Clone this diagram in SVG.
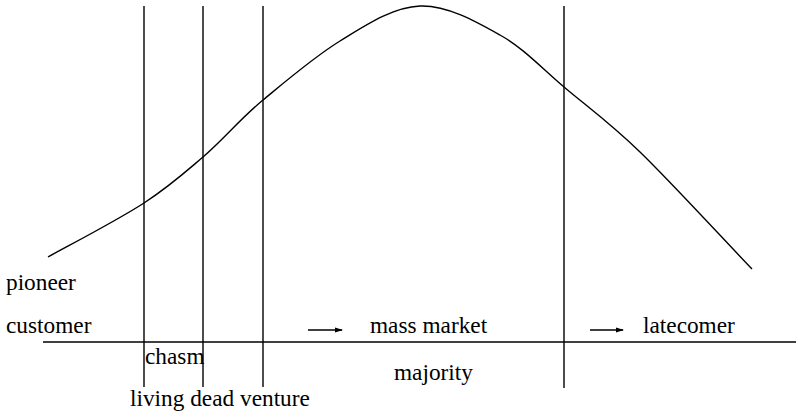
<svg xmlns="http://www.w3.org/2000/svg" width="796" height="417" viewBox="0 0 796 417">
<defs>
<style>
.ln{stroke:#000;stroke-width:1.4;fill:none}
.t{font-family:"Liberation Serif","Times New Roman",serif;font-size:23.3px;fill:#000}
</style>
<marker id="ah" markerWidth="8" markerHeight="6" refX="7" refY="3" orient="auto" markerUnits="userSpaceOnUse">
<path d="M0,0.5 L8,3 L0,5.5 Z" fill="#000"/>
</marker>
</defs>
<rect width="796" height="417" fill="#fff"/>
<g id="curve">
<path class="ln" d="M48,257 C64,248 118,220 144,203 C170,186 183,174 203,157 C223,140 240,119 263,100 C286,81 314,57 340,41 C366,25 393,7 420,6 C447,5 476,21.5 500,35 C524,48.5 541,67.5 564,87 C587,106.5 609,122 640,152 C671,182 733,249.5 752,269"/>
</g>
<g id="axes">
<line class="ln" x1="43" y1="342" x2="796" y2="342"/>
<line class="ln" x1="144" y1="6" x2="144" y2="387"/>
<line class="ln" x1="203" y1="6" x2="203" y2="387"/>
<line class="ln" x1="263" y1="6" x2="263" y2="387"/>
<line class="ln" x1="564" y1="6" x2="564" y2="388"/>
</g>
<g id="connectors">
<line class="ln" x1="308" y1="330" x2="342" y2="330" marker-end="url(#ah)"/>
<line class="ln" x1="590" y1="330" x2="623" y2="330" marker-end="url(#ah)"/>
</g>
<g id="labels">
<text class="t" x="6" y="290">pioneer</text>
<text class="t" x="6" y="333">customer</text>
<text class="t" x="145" y="364">chasm</text>
<text class="t" x="130" y="406">living dead venture</text>
<text class="t" x="370" y="333">mass market</text>
<text class="t" x="394" y="380">majority</text>
<text class="t" x="643" y="333">latecomer</text>
</g>
</svg>
